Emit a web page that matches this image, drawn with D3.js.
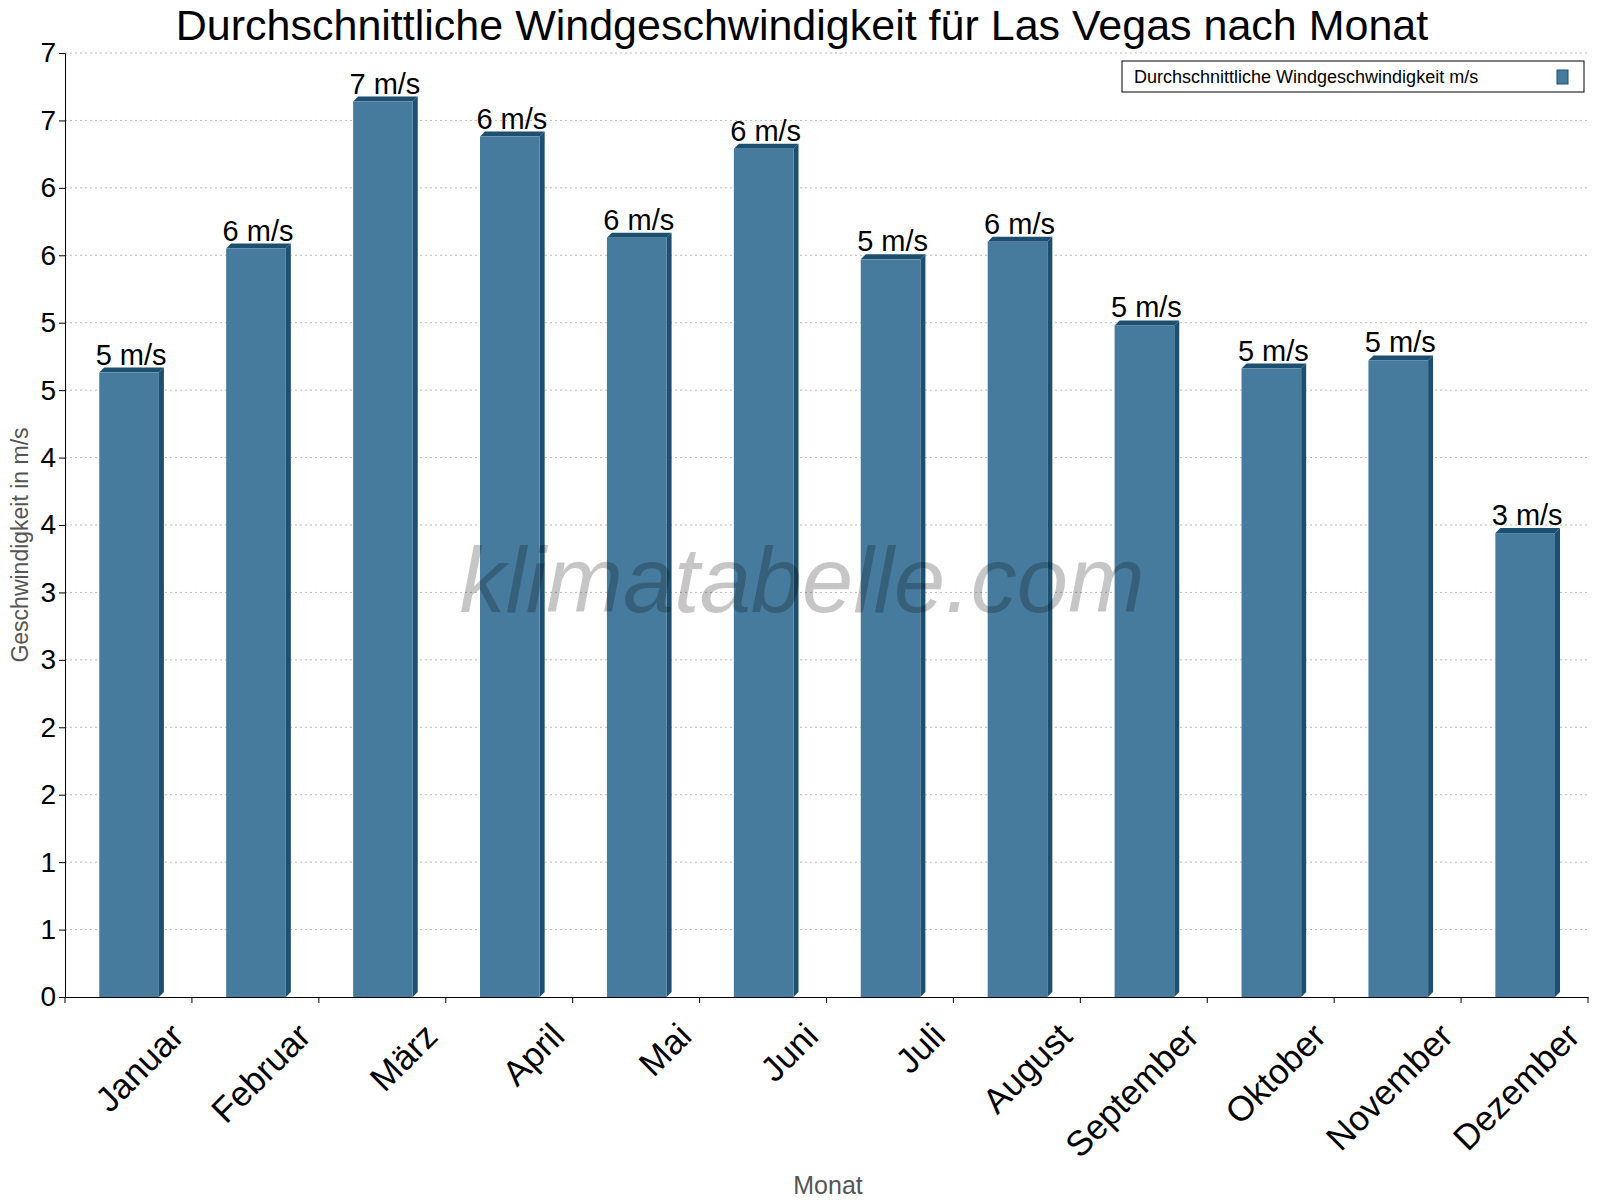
<!DOCTYPE html>
<html><head><meta charset="utf-8">
<script src="https://cdn.jsdelivr.net/npm/d3@7"></script>
<style>body{margin:0;background:#fff}</style>
</head><body><div id="chart"></div>
<script>
var months = ["Januar","Februar","März","April","Mai","Juni","Juli","August","September","Oktober","November","Dezember"];
var windSpeed = [4.63,5.55,6.64,6.38,5.63,6.29,5.47,5.60,4.98,4.66,4.72,3.44];
var yTicks = [0,0.5,1,1.5,2,2.5,3,3.5,4,4.5,5,5.5,6,6.5,7];

var width = 1600, height = 1200;
var margin = {left:65, right:12, top:53, bottom:203};

var svg = d3.select("#chart").append("svg")
    .attr("width", width).attr("height", height)
    .style("font-family", "Arial, 'Liberation Sans', sans-serif");

var x = d3.scaleBand().domain(months).range([margin.left, width - margin.right]);
var y = d3.scaleLinear().domain([0, 7]).range([height - margin.bottom, margin.top]);

// grid
svg.append("g").selectAll("line").data(yTicks.slice(1)).enter().append("line")
    .attr("x1", margin.left).attr("x2", width - margin.right)
    .attr("y1", d => y(d)).attr("y2", d => y(d))
    .attr("stroke", "#bbb").attr("stroke-dasharray", "2,3");

// axes
var yAxis = d3.axisLeft(y).tickValues(yTicks).tickFormat(d => Math.round(d)).tickSize(6);
var yg = svg.append("g").attr("transform", "translate(" + margin.left + ",0)").call(yAxis);
yg.selectAll("text").attr("font-size", 28).attr("fill", "#000");

var xg = svg.append("g").attr("transform", "translate(0," + y(0) + ")")
    .call(d3.axisBottom(x).tickSize(0).tickFormat(""));
xg.selectAll(".sep").data(months.concat([""])).enter().append("line")
    .attr("x1", (d, i) => margin.left + i * x.step()).attr("x2", (d, i) => margin.left + i * x.step())
    .attr("y1", 0).attr("y2", 6).attr("stroke", "#000");
svg.selectAll(".domain").attr("stroke", "#000");

svg.append("g").selectAll("text").data(months).enter().append("text")
    .attr("transform", d => "translate(" + (x(d) + x.bandwidth() * 0.5 + 40) + "," + (y(0) + 24) + ") rotate(-45)")
    .attr("text-anchor", "end").attr("dy", "0.7em").attr("font-size", 35).text(d => d);

// bars
var bw = x.bandwidth() * 0.47, off = x.bandwidth() * 0.27, dep = 5;
var bars = svg.append("g").selectAll("g").data(windSpeed).enter().append("g");
bars.append("polygon").attr("fill", "#1d4f70")
    .attr("points", (d, i) => {
        var x0 = x(months[i]) + off, yt = y(d), yb = y(0);
        return [[x0 + bw, yt], [x0 + bw + dep, yt - dep], [x0 + bw + dep, yb - dep], [x0 + bw, yb]].join(" ");
    });
bars.append("polygon").attr("fill", "#1d4f70")
    .attr("points", (d, i) => {
        var x0 = x(months[i]) + off, yt = y(d);
        return [[x0, yt], [x0 + dep, yt - dep], [x0 + bw + dep, yt - dep], [x0 + bw, yt]].join(" ");
    });
bars.append("rect").attr("fill", "#467b9e")
    .attr("x", (d, i) => x(months[i]) + off).attr("y", d => y(d))
    .attr("width", bw).attr("height", d => y(0) - y(d));
bars.append("text").attr("text-anchor", "middle").attr("font-size", 29)
    .attr("x", (d, i) => x(months[i]) + off + bw / 2 + 2).attr("y", d => y(d) - 8)
    .text(d => Math.round(d) + " m/s");

// watermark
svg.append("text").attr("x", 802).attr("y", 612).attr("text-anchor", "middle")
    .attr("font-size", 92).attr("font-style", "italic").attr("font-weight", 300)
    .attr("fill", "#000").attr("opacity", 0.22)
    .text("klimatabelle.com");

// titles
svg.append("text").attr("x", 802).attr("y", 40).attr("text-anchor", "middle")
    .attr("font-size", 43).text("Durchschnittliche Windgeschwindigkeit für Las Vegas nach Monat");
svg.append("text").attr("transform", "translate(28," + ((margin.top + y(0)) / 2 + 20) + ") rotate(-90)")
    .attr("text-anchor", "middle").attr("font-size", 23).attr("fill", "#555").text("Geschwindigkeit in m/s");
svg.append("text").attr("x", 828).attr("y", 1194).attr("text-anchor", "middle")
    .attr("font-size", 25).attr("fill", "#555").text("Monat");

// legend
var lg = svg.append("g").attr("transform", "translate(1122,61)");
lg.append("rect").attr("width", 462).attr("height", 31).attr("fill", "#fff").attr("stroke", "#000");
lg.append("text").attr("x", 12).attr("y", 22).attr("font-size", 18).text("Durchschnittliche Windgeschwindigkeit m/s");
lg.append("rect").attr("x", 435).attr("y", 9).attr("width", 11).attr("height", 14)
    .attr("fill", "#467b9e").attr("stroke", "#1d4f70");
</script></body></html>
